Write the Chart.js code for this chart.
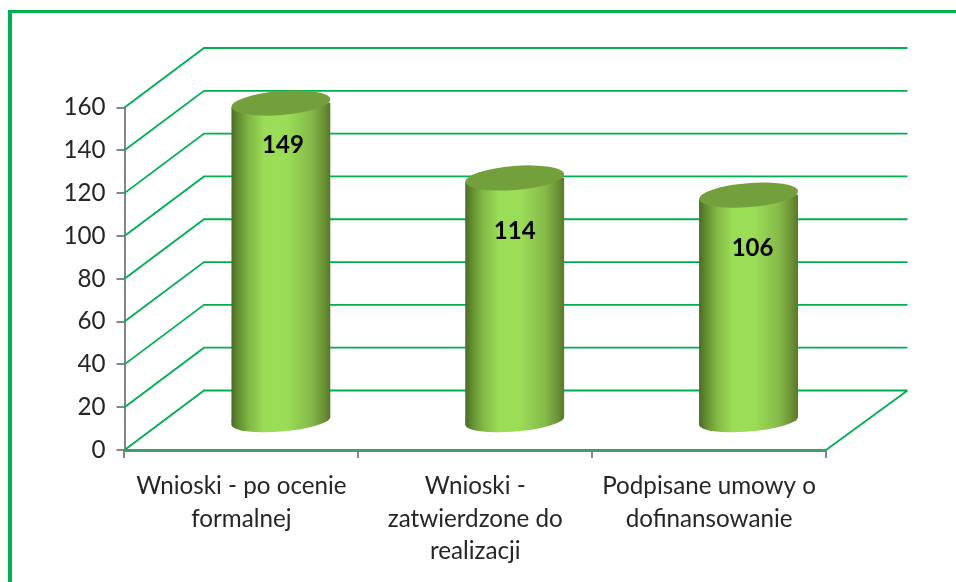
<!DOCTYPE html>
<html>
<head>
<meta charset="utf-8">
<style>html,body{margin:0;padding:0;background:#fff}#w{width:956px;height:582px}</style>
<script src="https://cdn.jsdelivr.net/npm/chart.js@4/dist/chart.umd.min.js"></script>
</head>
<body>
<div id="w"><canvas id="c" width="956" height="582"></canvas></div>
<script>
const categories = [
  ["Wnioski - po ocenie", "formalnej"],
  ["Wnioski -", "zatwierdzone do", "realizacji"],
  ["Podpisane umowy o", "dofinansowanie"]
];
const values = [149, 114, 106];
const yMin = 0;
const yMax = 160;
const yStep = 20;

const GREEN = "#00b050";
const GREY = "#868686";
const DEPTH = {x: 79.5, y: -59.5};
const BAR = {dx: 39.5, dy: -28, width: 99, tilt: -0.08, minor: 12};
const LABEL_NUDGE = [{x: 2, y: 42}, {x: 0, y: 53}, {x: 4, y: 53}];

function cylinderGradient(ctx, x) {
  if (!Number.isFinite(x)) return "#9bdd57";
  const w = BAR.width, g = ctx.createLinearGradient(x - w / 2, 0, x + w / 2, 0);
  g.addColorStop(0, "#4a6a28");
  g.addColorStop(0.06, "#5f8a30");
  g.addColorStop(0.18, "#82b845");
  g.addColorStop(0.34, "#9bdd57");
  g.addColorStop(0.56, "#9bdd57");
  g.addColorStop(0.8, "#86bb4a");
  g.addColorStop(0.93, "#6d9238");
  g.addColorStop(1, "#587829");
  return g;
}

const scene = {
  id: "scene",
  beforeDraw(chart) {
    const c = chart.ctx;
    c.save();
    c.fillStyle = "#fff";
    c.fillRect(0, 0, chart.width, chart.height);
    c.fillStyle = GREEN;
    c.fillRect(8, 10, 948, 3);
    c.fillRect(8, 10, 4, 572);
    c.restore();
  },
  beforeDatasetsDraw(chart) {
    const c = chart.ctx, y = chart.scales.y, a = chart.chartArea;
    c.save();
    c.strokeStyle = GREEN;
    c.lineWidth = 1.8;
    c.beginPath();
    y.ticks.forEach(t => {
      const py = y.getPixelForValue(t.value);
      c.moveTo(a.left, py);
      c.lineTo(a.left + DEPTH.x, py + DEPTH.y);
      c.lineTo(a.right + 81.5, py + DEPTH.y);
    });
    c.moveTo(a.right, a.bottom);
    c.lineTo(a.right + 81.5, a.bottom + DEPTH.y);
    c.stroke();
    c.restore();

    const bars = chart.getDatasetMeta(0).data;
    const rise = Math.tan(-BAR.tilt) * BAR.width / 2;
    c.save();
    c.translate(BAR.dx, BAR.dy);
    // bottom caps first, so the body meets them
    bars.forEach(b => {
      const l = b.x - BAR.width / 2, r = b.x + BAR.width / 2;
      c.fillStyle = cylinderGradient(c, b.x);
      c.beginPath();
      c.ellipse(b.x, b.base, BAR.width / 2, BAR.minor - 1.5, BAR.tilt, 0, Math.PI * 2);
      c.fill();
      c.beginPath();
      c.moveTo(l, b.base - 1);
      c.lineTo(b.x, b.base - 1);
      c.lineTo(l, b.base + rise);
      c.closePath();
      c.fill();
    });
    c.beginPath();
    bars.forEach(b => {
      const l = b.x - BAR.width / 2, r = b.x + BAR.width / 2;
      c.moveTo(l, b.y + rise);
      c.lineTo(r, b.y - rise);
      c.lineTo(r, b.base - rise);
      c.lineTo(l, b.base + rise);
      c.closePath();
    });
    c.clip();
  },
  afterDatasetsDraw(chart) {
    const c = chart.ctx, bars = chart.getDatasetMeta(0).data;
    c.restore();
    c.save();
    c.translate(BAR.dx, BAR.dy);
    bars.forEach(b => {
      c.fillStyle = "#73a03c";
      c.beginPath();
      c.ellipse(b.x, b.y, BAR.width / 2, BAR.minor, BAR.tilt, 0, Math.PI * 2);
      c.fill();
    });
    c.restore();
    c.save();
    c.fillStyle = "#000";
    c.font = "bold 24px Lato";
    c.textAlign = "center";
    c.textBaseline = "middle";
    bars.forEach((b, i) => {
      const n = LABEL_NUDGE[i];
      c.fillText(String(values[i]), b.x + BAR.dx + n.x, b.y + BAR.dy + n.y);
    });
    c.restore();
  }
};

new Chart(document.getElementById("c"), {
  type: "bar",
  plugins: [scene],
  data: {
    labels: categories,
    datasets: [{
      data: values,
      clip: false,
      barThickness: BAR.width,
      borderWidth: 0,
      backgroundColor: ctx => cylinderGradient(ctx.chart.ctx, ctx.chart.scales.x.getPixelForValue(ctx.dataIndex))
    }]
  },
  options: {
    responsive: false,
    animation: false,
    events: [],
    layout: {padding: {top: 107.5, right: 130, bottom: 0, left: 0}},
    plugins: {legend: {display: false}, tooltip: {enabled: false}, title: {display: false}},
    scales: {
      x: {
        afterFit(s) { s.height = 132; },
        grid: {drawOnChartArea: false, color: GREY, lineWidth: 2, tickLength: 8, offset: true},
        border: {color: "#3f9f6b", width: 3},
        ticks: {
          color: "#262626", padding: 12, maxRotation: 0, autoSkip: false,
          font: {family: "Lato", size: 24.2, lineHeight: 1.35}
        }
      },
      y: {
        min: yMin, max: yMax,
        afterFit(s) { s.width = 124.5; },
        grid: {drawOnChartArea: false, color: GREY, lineWidth: 2, tickLength: 8},
        border: {color: GREY, width: 2},
        ticks: {
          stepSize: yStep, color: "#262626", padding: 11,
          font: {family: "Lato", size: 24.2}
        }
      }
    }
  }
});
</script>
</body>
</html>
